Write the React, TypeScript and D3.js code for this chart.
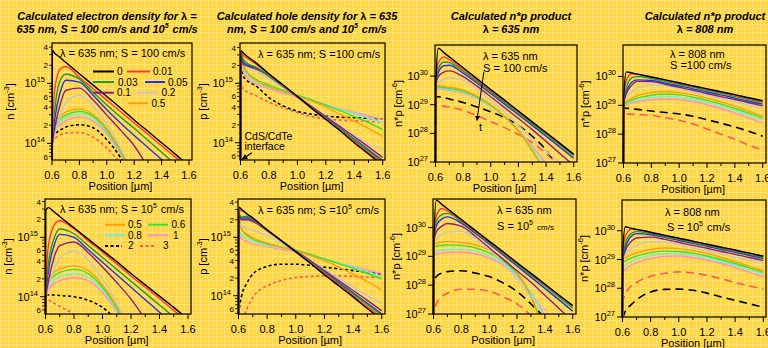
import { useEffect } from "react";
import * as d3 from "d3";

const X_POS = [0.6, 0.602, 0.62, 0.66, 0.7, 0.8, 0.9, 1.0, 1.1, 1.2, 1.3, 1.4, 1.5, 1.6];
// curve labels (time), colours and dash flags, same order as rows below
const T_LABELS = ["0", "0.01", "0.03", "0.05", "0.1", "0.2", "0.5", "0.6", "0.8", "1", "2", "3"];
const COLORS = ["#000000", "#ff3a2a", "#1e9e1e", "#2233dd", "#8b1a8b", "#c6c6c6", "#ffa000", "#33e633", "#6ff0d8", "#ff8ec8", "#000000", "#ff5a4a"];
const DASHED = [false, false, false, false, false, false, false, false, false, false, true, true];

// log10 of the densities, one row per curve
const N_635_S100 = [
  [12, 15.55, 15.5, 15.43, 15.35, 15.16, 14.97, 14.78, 14.59, 14.39, 14.2, 14.01, 13.82, 13.62],
  [12, 14.1, 14.9, 15.24, 15.28, 15.1, 14.91, 14.72, 14.53, 14.34, 14.15, 13.96, 13.77, 13.58],
  [12, 14.05, 14.55, 15.05, 15.15, 15.07, 14.85, 14.64, 14.44, 14.25, 14.05, 13.85, 13.65, 13.45],
  [12, 14.0, 14.4, 14.85, 15.05, 15.02, 14.8, 14.56, 14.34, 14.13, 13.93, 13.73, 13.52, 13.3],
  [12, 13.95, 14.25, 14.65, 14.88, 14.92, 14.72, 14.47, 14.22, 13.96, 13.6, 13.2, 12.8],
  [12, 13.9, 14.15, 14.45, 14.68, 14.8, 14.62, 14.32, 13.93, 13.4, 12.8],
  [12, 14.25, 14.35, 14.45, 14.52, 14.57, 14.48, 14.25, 13.88, 13.4, 12.8],
  [12, 14.22, 14.3, 14.4, 14.47, 14.53, 14.45, 14.22, 13.86, 13.38, 12.8],
  [12, 14.2, 14.27, 14.36, 14.43, 14.49, 14.41, 14.19, 13.84, 13.37, 12.8],
  [12, 14.15, 14.22, 14.31, 14.38, 14.44, 14.37, 14.16, 13.82, 13.36, 12.8],
  [12, 14.12, 14.16, 14.22, 14.27, 14.31, 14.26, 14.06, 13.76, 13.3],
  [12, 14.04, 14.08, 14.14, 14.17, 14.18, 14.1, 13.92, 13.65, 13.25],
];

const P_635_S100 = [
  [12, 15.55, 15.51, 15.43, 15.36, 15.16, 14.97, 14.78, 14.58, 14.39, 14.2, 14.0, 13.81, 13.62],
  [12, 15.5, 15.47, 15.4, 15.34, 15.15, 14.96, 14.77, 14.58, 14.4, 14.21, 14.02, 13.83, 13.65],
  [12, 15.52, 15.4, 15.32, 15.28, 15.12, 14.95, 14.77, 14.59, 14.41, 14.23, 14.05, 13.86, 13.68],
  [12, 15.5, 15.35, 15.3, 15.27, 15.13, 14.95, 14.77, 14.6, 14.42, 14.24, 14.06, 13.88, 13.7],
  [12, 15.48, 15.32, 15.28, 15.25, 15.12, 14.95, 14.78, 14.61, 14.44, 14.27, 14.1, 13.93, 13.75],
  [12, 15.45, 15.35, 15.27, 15.22, 15.08, 14.93, 14.76, 14.6, 14.45, 14.28, 14.12, 13.98, 13.88],
  [12, 15.5, 15.3, 15.14, 15.06, 14.94, 14.86, 14.78, 14.7, 14.6, 14.48, 14.36, 14.24, 14.1],
  [12, 15.5, 15.3, 15.15, 15.08, 14.97, 14.88, 14.8, 14.72, 14.63, 14.54, 14.44, 14.34, 14.22],
  [12, 15.48, 15.25, 15.1, 15.03, 14.93, 14.85, 14.78, 14.71, 14.63, 14.56, 14.49, 14.42, 14.34],
  [12, 15.47, 15.22, 15.06, 15.0, 14.91, 14.83, 14.77, 14.71, 14.64, 14.57, 14.51, 14.45, 14.39],
  [12, 15.22, 15.12, 15.02, 14.97, 14.76, 14.62, 14.53, 14.48, 14.45, 14.43, 14.42, 14.41, 14.4],
  [12, 14.95, 14.9, 14.84, 14.8, 14.68, 14.59, 14.51, 14.44, 14.4, 14.38, 14.37, 14.36, 14.35],
];

const NP_635_S100 = [
  [26, 29.7, 30.97, 30.82, 30.67, 30.29, 29.91, 29.53, 29.16, 28.78, 28.4, 28.03, 27.65, 27.27],
  [26, 29.7, 30.45, 30.67, 30.57, 30.23, 29.87, 29.5, 29.13, 28.76, 28.39, 28.02, 27.65, 27.28],
  [26, 29.7, 30.25, 30.49, 30.47, 30.17, 29.82, 29.45, 29.08, 28.71, 28.34, 27.97, 27.6, 27.22],
  [26, 29.7, 30.12, 30.36, 30.38, 30.1, 29.76, 29.39, 29.02, 28.65, 28.28, 27.9, 27.52, 27.13],
  [26, 29.7, 29.98, 30.14, 30.18, 29.98, 29.65, 29.28, 28.9, 28.52, 28.13, 27.72, 27.3, 26.88],
  [26, 29.65, 29.78, 29.88, 29.94, 29.85, 29.55, 29.15, 28.73, 28.28, 27.8, 27.38, 26.95, 26.4],
  [26, 29.66, 29.66, 29.64, 29.61, 29.52, 29.3, 29.0, 28.6, 28.08, 27.42, 26.6, 25.8],
  [26, 29.62, 29.62, 29.6, 29.57, 29.48, 29.27, 28.98, 28.58, 28.07, 27.4, 26.6, 25.8],
  [26, 29.58, 29.58, 29.56, 29.53, 29.44, 29.23, 28.95, 28.58, 28.1, 27.5, 26.85, 26.1],
  [26, 29.55, 29.55, 29.53, 29.5, 29.41, 29.21, 28.94, 28.58, 28.12, 27.55, 26.95, 26.2],
  [26, 29.28, 29.28, 29.25, 29.2, 29.08, 28.92, 28.75, 28.55, 28.28, 27.9, 27.42, 26.7],
  [26, 28.97, 28.97, 28.95, 28.92, 28.8, 28.62, 28.41, 28.2, 27.96, 27.68, 27.3, 26.85],
];

const NP_808_S100 = [
  [27, 29.3, 30.16, 30.12, 30.08, 29.98, 29.88, 29.78, 29.67, 29.57, 29.47, 29.37, 29.26, 29.16],
  [27, 29.2, 29.85, 30.1, 30.08, 29.98, 29.88, 29.77, 29.67, 29.56, 29.46, 29.35, 29.24, 29.13],
  [27, 29.15, 29.6, 29.95, 30.0, 29.93, 29.83, 29.73, 29.63, 29.52, 29.42, 29.31, 29.2, 29.1],
  [27, 29.1, 29.45, 29.8, 29.88, 29.86, 29.77, 29.67, 29.57, 29.46, 29.36, 29.25, 29.14, 29.04],
  [27, 29.1, 29.4, 29.7, 29.83, 29.82, 29.73, 29.62, 29.52, 29.41, 29.3, 29.2, 29.09, 28.98],
  [27, 29.08, 29.25, 29.48, 29.6, 29.71, 29.68, 29.58, 29.47, 29.36, 29.24, 29.12, 29.0, 28.9],
  [27, 29.05, 29.12, 29.25, 29.33, 29.44, 29.48, 29.44, 29.36, 29.25, 29.12, 28.97, 28.8, 28.62],
  [27, 29.03, 29.08, 29.18, 29.25, 29.35, 29.39, 29.36, 29.28, 29.17, 29.04, 28.89, 28.73, 28.56],
  [27, 29.02, 29.05, 29.13, 29.18, 29.27, 29.31, 29.28, 29.21, 29.1, 28.97, 28.82, 28.65, 28.48],
  [27, 29.0, 29.02, 29.08, 29.12, 29.19, 29.22, 29.2, 29.13, 29.02, 28.89, 28.73, 28.56, 28.39],
  [27, 28.9, 28.9, 28.88, 28.86, 28.8, 28.75, 28.7, 28.62, 28.5, 28.38, 28.25, 28.1, 27.93],
  [27, 28.7, 28.7, 28.69, 28.68, 28.65, 28.57, 28.48, 28.35, 28.18, 28.0, 27.82, 27.62, 27.45],
];

const N_635_S1E5 = [
  [12, 15.45, 15.5, 15.43, 15.35, 15.16, 14.97, 14.78, 14.59, 14.39, 14.2, 14.01, 13.82, 13.62],
  [12, 14.1, 14.85, 15.2, 15.28, 15.14, 14.94, 14.75, 14.55, 14.35, 14.16, 13.97, 13.77, 13.58],
  [12, 14.05, 14.55, 14.98, 15.14, 15.06, 14.86, 14.66, 14.46, 14.26, 14.06, 13.86, 13.66, 13.46],
  [12, 14.0, 14.42, 14.86, 15.05, 15.0, 14.79, 14.58, 14.37, 14.16, 13.95, 13.74, 13.53, 13.3],
  [12, 13.95, 14.25, 14.66, 14.86, 14.92, 14.74, 14.5, 14.24, 13.96, 13.62, 13.25, 12.9],
  [12, 13.9, 14.15, 14.45, 14.65, 14.77, 14.62, 14.3, 13.9, 13.35, 12.8],
  [12, 14.2, 14.3, 14.41, 14.47, 14.52, 14.44, 14.2, 13.84, 13.35, 12.8],
  [12, 14.15, 14.24, 14.35, 14.41, 14.46, 14.39, 14.16, 13.81, 13.33, 12.8],
  [12, 14.1, 14.18, 14.28, 14.34, 14.39, 14.33, 14.12, 13.78, 13.31, 12.8],
  [12, 14.05, 14.12, 14.22, 14.27, 14.32, 14.27, 14.07, 13.75, 13.29, 12.8],
  [12, 14.03, 14.03, 14.03, 14.02, 14.0, 13.94, 13.82, 13.6, 13.3],
  [12, 13.98, 13.95, 13.89, 13.84, 13.7, 13.5, 13.2],
];

const P_635_S1E5 = [
  [12, 15.52, 15.48, 15.4, 15.33, 15.13, 14.94, 14.75, 14.56, 14.36, 14.17, 13.98, 13.78, 13.59],
  [12, 15.45, 15.46, 15.4, 15.32, 15.13, 14.94, 14.75, 14.57, 14.38, 14.19, 14.0, 13.81, 13.63],
  [12, 15.4, 15.35, 15.36, 15.3, 15.12, 14.94, 14.76, 14.58, 14.4, 14.21, 14.03, 13.85, 13.67],
  [12, 15.38, 15.33, 15.33, 15.29, 15.12, 14.94, 14.76, 14.59, 14.41, 14.23, 14.05, 13.87, 13.69],
  [12, 15.35, 15.3, 15.3, 15.27, 15.11, 14.94, 14.77, 14.6, 14.43, 14.26, 14.09, 13.92, 13.74],
  [12, 15.25, 15.2, 15.15, 15.12, 15.03, 14.9, 14.76, 14.61, 14.45, 14.3, 14.15, 14.0, 13.87],
  [12, 15.27, 15.15, 15.05, 14.99, 14.9, 14.83, 14.77, 14.69, 14.6, 14.49, 14.37, 14.24, 14.1],
  [12, 15.33, 15.15, 15.03, 14.97, 14.89, 14.83, 14.78, 14.71, 14.63, 14.55, 14.47, 14.38, 14.29],
  [12, 15.13, 15.04, 14.98, 14.94, 14.87, 14.82, 14.77, 14.7, 14.63, 14.56, 14.49, 14.41, 14.33],
  [12, 15.04, 14.98, 14.93, 14.89, 14.84, 14.79, 14.75, 14.69, 14.62, 14.56, 14.5, 14.44, 14.38],
  [12, 13.65, 13.98, 14.22, 14.37, 14.5, 14.54, 14.54, 14.52, 14.49, 14.46, 14.43, 14.4, 14.37],
  [12, 13.3, 13.5, 13.78, 13.97, 14.17, 14.26, 14.31, 14.33, 14.34, 14.34, 14.33, 14.32, 14.31],
];

const NP_635_S1E5 = [
  [26, 29.5, 30.95, 30.8, 30.65, 30.28, 29.9, 29.53, 29.16, 28.78, 28.41, 28.04, 27.66, 27.29],
  [26, 29.5, 30.4, 30.66, 30.58, 30.25, 29.88, 29.51, 29.14, 28.77, 28.4, 28.02, 27.65, 27.28],
  [26, 29.5, 30.2, 30.45, 30.49, 30.2, 29.85, 29.48, 29.11, 28.73, 28.35, 27.97, 27.59, 27.21],
  [26, 29.5, 30.05, 30.3, 30.37, 30.15, 29.8, 29.43, 29.05, 28.67, 28.28, 27.89, 27.5, 27.1],
  [26, 29.5, 29.85, 30.05, 30.14, 30.05, 29.7, 29.3, 28.9, 28.5, 28.1, 27.65, 27.2, 26.75],
  [26, 29.45, 29.6, 29.78, 29.85, 29.87, 29.62, 29.22, 28.76, 28.22, 27.6, 27.15, 26.2],
  [26, 29.4, 29.45, 29.5, 29.52, 29.48, 29.4, 29.22, 28.92, 28.45, 27.6, 26.3],
  [26, 29.3, 29.35, 29.38, 29.4, 29.38, 29.3, 29.12, 28.84, 28.4, 27.62, 26.4],
  [26, 29.15, 29.18, 29.22, 29.24, 29.25, 29.18, 29.02, 28.76, 28.36, 27.75, 26.85, 26],
  [26, 29.05, 29.08, 29.12, 29.14, 29.15, 29.09, 28.94, 28.7, 28.32, 27.75, 26.95, 26],
  [26, 28.1, 28.3, 28.42, 28.47, 28.5, 28.42, 28.3, 28.08, 27.78, 27.35, 26.85, 26.2],
  [25, 27.0, 27.35, 27.6, 27.72, 27.86, 27.86, 27.79, 27.6, 27.35, 26.95, 26.4],
];

const NP_808_S1E5 = [
  [27, 29.3, 30.14, 30.09, 30.05, 29.95, 29.84, 29.74, 29.64, 29.53, 29.43, 29.33, 29.22, 29.12],
  [27, 29.2, 29.8, 30.05, 30.04, 29.94, 29.84, 29.73, 29.63, 29.53, 29.43, 29.32, 29.22, 29.11],
  [27, 29.1, 29.55, 29.9, 29.97, 29.9, 29.8, 29.7, 29.6, 29.49, 29.39, 29.29, 29.18, 29.08],
  [27, 29.05, 29.4, 29.8, 29.9, 29.86, 29.77, 29.67, 29.56, 29.46, 29.35, 29.25, 29.14, 29.04],
  [27, 29.0, 29.3, 29.62, 29.75, 29.78, 29.7, 29.6, 29.49, 29.39, 29.28, 29.18, 29.07, 28.97],
  [27, 29.0, 29.15, 29.38, 29.5, 29.62, 29.6, 29.52, 29.41, 29.3, 29.19, 29.08, 28.98, 28.89],
  [27, 29.0, 29.06, 29.16, 29.23, 29.35, 29.4, 29.38, 29.31, 29.21, 29.08, 28.93, 28.77, 28.6],
  [27, 28.89, 28.95, 29.05, 29.12, 29.24, 29.29, 29.28, 29.22, 29.12, 29.0, 28.86, 28.71, 28.55],
  [27, 28.72, 28.8, 28.92, 29.0, 29.14, 29.2, 29.2, 29.15, 29.06, 28.94, 28.8, 28.65, 28.49],
  [27, 28.55, 28.65, 28.8, 28.88, 29.04, 29.11, 29.12, 29.07, 28.98, 28.86, 28.72, 28.56, 28.4],
  [26.5, 26.9, 27.2, 27.42, 27.6, 27.87, 27.96, 27.97, 27.93, 27.83, 27.7, 27.58, 27.46, 27.34],
  [27, 27.5, 27.8, 28.06, 28.2, 28.42, 28.52, 28.57, 28.53, 28.45, 28.33, 28.2, 28.08, 27.97],
];

const FONT = "'Liberation Sans', Arial, Helvetica, sans-serif";

type Kind = "n" | "p" | "np";
interface PanelCfg {
  data: number[][];
  kind: Kind;
  frame: [number, number, number, number]; // left, top, right, bottom
  xr: [number, number];
  exp: [number, number]; // log10 range bottom..top
  ylabX: number;
  legend?: [number, number, number, number, number][]; // series, x0, x1, textX, y
  notes: (x: d3.ScaleLinear<number, number>, y: d3.ScaleLogarithmic<number, number>) => JSX.Element;
}

const Sup = ({ t, size = 7, up = 5 }: { t: string; size?: number; up?: number }) => (
  <>
    <tspan dy={-up} fontSize={size}>{t}</tspan>
    <tspan dy={up}>{"\u200a"}</tspan>
  </>
);

const PANELS: PanelCfg[] = [
  {
    data: N_635_S100, kind: "n", frame: [52, 43, 192, 160], xr: [52, 189], exp: [13.722, 15.672], ylabX: 14,
    legend: [
      [0, 93, 114, 117, 71.5], [1, 127, 150, 153, 71.5],
      [2, 93, 114, 118, 82], [3, 145, 165, 168, 82],
      [4, 93, 114, 117, 92.7], [5, 137, 158, 161.5, 92.7],
      [6, 128, 148, 151.5, 103.3],
    ],
    notes: () => <text x={60} y={56.5} fontSize={11}>λ = 635 nm; S = 100 cm/s</text>,
  },
  {
    data: P_635_S100, kind: "p", frame: [240, 43, 385, 160], xr: [240.5, 382.7], exp: [13.709, 15.678], ylabX: 207,
    notes: (x, y) => (
      <g>
        <text x={258} y={58} fontSize={11}>λ = 635 nm; S =100 cm/s</text>
        <text x={x(0.628)} y={y(10 ** 14.05)} fontSize={10.5}>CdS/CdTe</text>
        <text x={x(0.628)} y={y(10 ** 13.87)} fontSize={10.5}>interface</text>
        <line x1={x(0.68)} y1={y(10 ** 13.83)} x2={x(0.612)} y2={y(10 ** 13.72)} stroke="#000" strokeWidth={1.2} markerEnd="url(#arr)" />
      </g>
    ),
  },
  {
    data: NP_635_S100, kind: "np", frame: [435, 45, 577, 162], xr: [435.5, 573.7], exp: [27.0, 31.085], ylabX: 402,
    notes: (x, y) => (
      <g>
        <text x={483} y={60} fontSize={11}>λ = 635 nm</text>
        <text x={483} y={71.5} fontSize={11}>S = 100 cm/s</text>
        <line x1={x(0.95)} y1={y(10 ** 30.15)} x2={x(0.9)} y2={y(10 ** 28.45)} stroke="#000" strokeWidth={1} markerEnd="url(#arr)" />
        <text x={x(0.925)} y={y(10 ** 28.07)} fontSize={11} textAnchor="middle">t</text>
      </g>
    ),
  },
  {
    data: NP_808_S100, kind: "np", frame: [623, 45, 766, 163], xr: [623.5, 762.7], exp: [27.0, 31.09], ylabX: 589,
    notes: () => (
      <g>
        <text x={670} y={58} fontSize={11}>λ = 808 nm</text>
        <text x={670} y={69} fontSize={11}>S =100 cm/s</text>
      </g>
    ),
  },
  {
    data: N_635_S1E5, kind: "n", frame: [45, 199, 191, 314], xr: [45.5, 188], exp: [13.709, 15.645], ylabX: 12,
    legend: [
      [6, 105, 125, 128, 224.7], [7, 148, 168, 171.5, 224.7],
      [8, 105, 125, 128, 235.3], [9, 148, 168, 173, 235.3],
      [10, 105, 122, 128, 245.9], [11, 140, 155, 163, 245.9],
    ],
    notes: () => (
      <text x={60} y={213} fontSize={11}>λ = 635 nm; S = 10<Sup t="5" /> cm/s</text>
    ),
  },
  {
    data: P_635_S1E5, kind: "p", frame: [238, 199, 385, 314], xr: [238.5, 381.7], exp: [13.687, 15.656], ylabX: 207,
    notes: () => (
      <text x={258} y={214} fontSize={11}>λ = 635 nm; S =10<Sup t="5" /> cm/s</text>
    ),
  },
  {
    data: NP_635_S1E5, kind: "np", frame: [433, 199, 576, 314], xr: [433.5, 572.7], exp: [27.0, 30.99], ylabX: 400,
    notes: () => (
      <g>
        <text x={497} y={214} fontSize={11}>λ = 635 nm</text>
        <text x={497} y={229.5} fontSize={11}>S = 10<Sup t="5" /> <tspan fontSize={8}>cm/s</tspan></text>
      </g>
    ),
  },
  {
    data: NP_808_S1E5, kind: "np", frame: [622, 200, 766, 317], xr: [622.5, 763.3], exp: [27.0, 31.07], ylabX: 588,
    notes: () => (
      <g>
        <text x={665} y={216} fontSize={11}>λ = 808 nm</text>
        <text x={667} y={231} fontSize={11}>S = 10<Sup t="5" /> cm/s</text>
      </g>
    ),
  },
];

function Panel({ p, idx }: { p: PanelCfg; idx: number }) {
  const [L, T, R, B] = p.frame;
  const x = d3.scaleLinear().domain([0.6, 1.6]).range(p.xr);
  const y = d3.scaleLog().domain([10 ** p.exp[0], 10 ** p.exp[1]]).range([B, T]);
  const line = d3
    .line<[number, number]>()
    .x((d) => x(d[0]))
    .y((d) => y(10 ** d[1]))
    .curve(d3.curveMonotoneX);
  const dash = p.kind === "np" ? "8,5" : "3,2.5";
  const order = p.data.map((_, i) => i).reverse();
  const yt = y.ticks();
  const xt = x.ticks(10);
  const ylab = p.kind === "np" ? "n*p [cm" : `${p.kind} [cm`;
  const ysup = p.kind === "np" ? "-6" : "-3";
  const yMid = (T + B) / 2;

  return (
    <g>
      <defs>
        <clipPath id={`clip${idx}`}>
          <rect x={L - 1} y={T} width={R - L + 1} height={B - T} />
        </clipPath>
      </defs>
      <g clipPath={`url(#clip${idx})`}>
        {order.map((i) => {
          const pts = p.data[i].map((v, k) => [X_POS[k], v] as [number, number]);
          return (
            <path
              key={i}
              d={line(pts) ?? ""}
              fill="none"
              stroke={COLORS[i]}
              strokeWidth={DASHED[i] ? 1.6 : 1.4}
              strokeDasharray={DASHED[i] ? dash : undefined}
            />
          );
        })}
      </g>
      <rect x={L} y={T} width={R - L} height={B - T} fill="none" stroke="#000" strokeWidth={1.2} />

      {/* x axis */}
      {xt.map((t) => {
        const major = Math.round(t * 10) % 2 === 0;
        return (
          <g key={t}>
            <line x1={x(t)} x2={x(t)} y1={B} y2={B + (major ? 5 : 3)} stroke="#000" strokeWidth={1} />
            {major && (
              <text x={x(t)} y={B + 19} fontSize={11} textAnchor="middle">{t.toFixed(1)}</text>
            )}
          </g>
        );
      })}
      <text x={(p.xr[0] + p.xr[1]) / 2} y={B + 30} fontSize={11} textAnchor="middle">Position [µm]</text>

      {/* y axis */}
      {yt.map((t) => {
        const e = Math.log10(t);
        const major = Math.abs(e - Math.round(e)) < 1e-6;
        const yy = y(t);
        if (major) {
          if (yy - T < 4) return null;
          return (
            <g key={t}>
              <line x1={L - 5} x2={L} y1={yy} y2={yy} stroke="#000" strokeWidth={1} />
              <text x={L - 7} y={yy + 4} fontSize={11} textAnchor="end">
                10<tspan dy={-5} fontSize={7.5}>{Math.round(e)}</tspan>
              </text>
            </g>
          );
        }
        if (p.kind === "np") return null;
        const m = Math.round(t / 10 ** Math.floor(e));
        return (
          <g key={t}>
            <line x1={L - 3} x2={L} y1={yy} y2={yy} stroke="#000" strokeWidth={0.8} />
            {(m === 2 || m === 4 || m === 6) && (
              <text x={L - 4} y={yy + 3} fontSize={8} textAnchor="end">{m}</text>
            )}
          </g>
        );
      })}
      <text transform={`translate(${p.ylabX},${yMid}) rotate(-90)`} fontSize={11} textAnchor="middle">
        {ylab}<tspan dy={-5} fontSize={7.5}>{ysup}</tspan><tspan dy={5}>]</tspan>
      </text>

      {/* legend */}
      {p.legend?.map(([i, x0, x1, tx, ly]) => (
        <g key={`lg${i}`}>
          <line x1={x0} x2={x1} y1={ly} y2={ly} stroke={COLORS[i]} strokeWidth={2}
            strokeDasharray={DASHED[i] ? "3,2.5" : undefined} />
          <text x={tx} y={ly + 3.5} fontSize={10}>{T_LABELS[i]}</text>
        </g>
      ))}

      {p.notes(x, y)}
    </g>
  );
}

const TITLES: { cx: number; l1: JSX.Element; l2: JSX.Element }[] = [
  {
    cx: 107,
    l1: <>Calculated electron density for <tspan fontStyle="normal">λ</tspan> =</>,
    l2: <>635 nm, S = 100 cm/s and 10<Sup t="5" /> cm/s</>,
  },
  {
    cx: 307,
    l1: <>Calculated hole density for <tspan fontStyle="normal">λ</tspan> = 635</>,
    l2: <>nm, S = 100 cm/s and 10<Sup t="5" /> cm/s</>,
  },
  { cx: 511, l1: <>Calculated n*p product</>, l2: <><tspan fontStyle="normal">λ</tspan> = 635 nm</> },
  { cx: 705, l1: <>Calculated n*p product</>, l2: <><tspan fontStyle="normal">λ</tspan> = 808 nm</> },
];

export default function App() {
  useEffect(() => {
    document.body.style.margin = "0";
  }, []);

  return (
    <svg
      width={768}
      height={348}
      viewBox="0 0 768 348"
      style={{ display: "block", position: "absolute", left: 0, top: 0 }}
      fontFamily={FONT}
    >
      <defs>
        <pattern id="bg" width={8} height={8} patternUnits="userSpaceOnUse">
          <rect width={8} height={8} fill="#ffd645" />
          <path d="M0 0.5H8M0.5 0V8" stroke="#ffe27e" strokeWidth={1} />
          <rect x={4} y={4} width={1} height={1} fill="#ffe58c" />
        </pattern>
        <marker id="arr" viewBox="0 0 10 10" refX={9} refY={5} markerWidth={5} markerHeight={5} orient="auto">
          <path d="M0,0 L10,5 L0,10 z" fill="#000" />
        </marker>
      </defs>
      <rect width={768} height={348} fill="url(#bg)" />

      {TITLES.map((t, i) => (
        <text key={i} x={t.cx} fontSize={11} fontWeight="bold" fontStyle="italic" textAnchor="middle">
          <tspan x={t.cx} y={19.5}>{t.l1}</tspan>
          <tspan x={t.cx} y={32.5}>{t.l2}</tspan>
        </text>
      ))}

      {PANELS.map((p, i) => (
        <Panel key={i} p={p} idx={i} />
      ))}
    </svg>
  );
}
